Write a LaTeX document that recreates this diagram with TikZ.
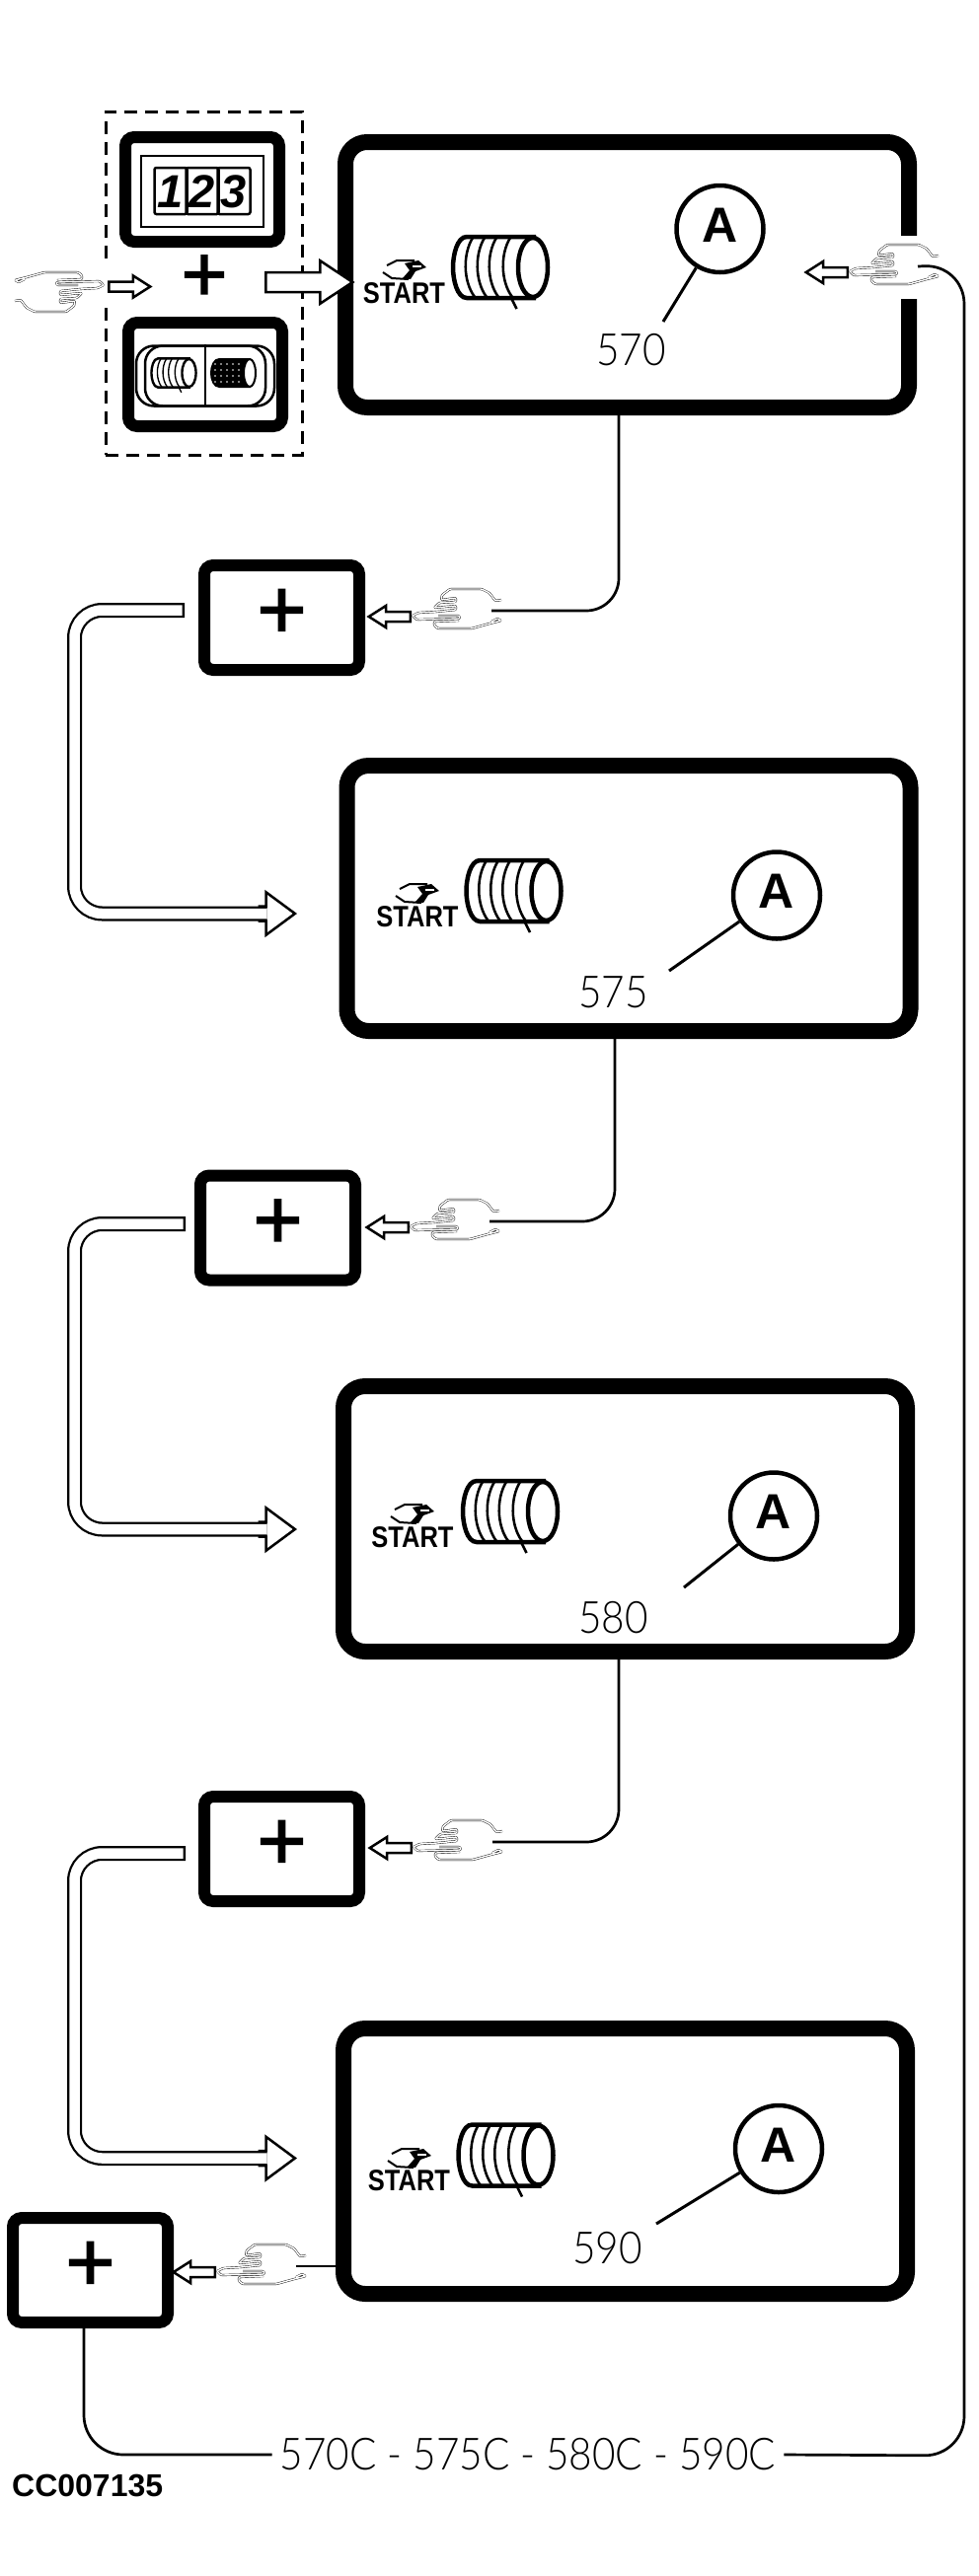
\documentclass[tikz,border=0pt]{standalone}
\usepackage{fontspec}
\setmainfont{Liberation Sans}
\newfontfamily\segfont[FakeStretch=.9]{Lato Light}
\newfontfamily\startfont[FakeStretch=.85]{Liberation Sans Bold}
\newfontfamily\plusfont[FakeBold=1.6]{Liberation Sans}
\newcommand{\fsz}[1]{\fontsize{#1}{#1}\selectfont}
\usetikzlibrary{positioning,shapes.arrows,calc}
\tikzset{
  x=1pt,y=-1pt,
  mainbox/.style={draw,line width=16pt,rounded corners=22pt,minimum width=571pt,minimum height=269pt,inner sep=0pt},
  plusbox/.style={draw,line width=12pt,rounded corners=9pt,minimum width=157pt,minimum height=106pt,inner sep=0pt,
                  font=\fsz{86pt}\plusfont,text height=50pt,text depth=8pt},
  callout/.style={draw,circle,line width=4.5pt,minimum size=88pt,inner sep=0pt,
                  font=\fsz{50pt}\bfseries,text height=36pt,text depth=10pt},
  seglabel/.style={font=\fsz{45pt}\segfont,inner sep=0pt},
  startlabel/.style={font=\fsz{30pt}\startfont,inner sep=0pt},
  cellbox/.style={draw,line width=2.5pt,minimum width=33pt,minimum height=47pt,inner sep=0pt,outer sep=0pt,
                  font=\fsz{47pt}\bfseries\itshape,text height=34pt,text depth=0pt},
  handarrow/.style={draw,fill=white,single arrow,line width=2.5pt,minimum height=42pt,inner sep=3.75pt,
                    single arrow head extend=6pt,single arrow tip angle=65,shape border rotate=#1,anchor=tail},
  handarrow/.default=180,
  fatarrow/.style={draw,fill=white,single arrow,line width=2.5pt,minimum height=88pt,inner sep=8.75pt,
                   single arrow head extend=11.75pt,single arrow tip angle=67,anchor=tail},
  routehead/.style={draw,fill=white,single arrow,line width=2.5pt,minimum height=36pt,inner sep=6.25pt,
                    single arrow head extend=14.25pt,single arrow tip angle=73,anchor=tip},
  routeline/.style={line width=15pt,rounded corners=28pt,postaction={draw,white,line width=10.5pt,shorten <=2.3pt}},
  conn/.style={line width=2.7pt,rounded corners=#1},
  conn/.default=33pt,
  leader/.style={line width=3pt},
  patch/.style={fill=white,inner sep=0pt},
  handline/.style={line width=.4pt,double,double distance=1.4pt,rounded corners=1pt,line join=round},
  pics/hand/.style={code={
    \draw[handline] (90,12) -- (84,13) -- (78,5) -- (70,1) -- (38,1) -- (30,7) -- (29,12) -- (44,10) -- (44,14)
      -- (27,15) -- (22,20) -- (44,18) -- (44,22) -- (24,24) -- (6,25) -- (0,28) -- (4,32) -- (48,31) -- (47,28) -- (26,28);
    \draw[handline] (47,33) -- (22,34) -- (22,38) -- (26,41) -- (60,41) -- (78,36) -- (90,33) -- (86,31) -- (80,34);
    \coordinate (-tail) at (-1,29);
    \coordinate (-wrist) at (80,23);
  }},
  pics/starthand/.style={code={
    \draw[line width=2pt] (4,6) -- (14,1) -- (32,1);
    \draw[line width=2pt] (0,13) -- (9,19) -- (26,20);
    \fill (22,4) -- (36,1) -- (44,8) -- (33,12) -- (28,20) -- (20,19) -- (27,11) -- cycle;
    \draw[white,line width=1.2pt] (30,7) -- (39,7);
  }},
  pics/roller/.style={code={
    \draw (36,-31) -- (-34,-31) .. controls (-44,-31) and (-48,-12) .. (-48,0)
      .. controls (-48,12) and (-44,31) .. (-34,31) -- (36,31);
    \draw (33,0) ellipse [x radius=15,y radius=30];
    \foreach \rx in {-36,-24,-12,2}
      \draw[line width=.75\pgflinewidth] (\rx+8,-30) .. controls (\rx-2,-14) and (\rx-2,14) .. (\rx+10,30);
    \draw[line width=.75\pgflinewidth] (11.5,32) -- (16.5,42);
  }},
  pics/dotroller/.style={code={
    \fill (18,-15) -- (-14,-15) .. controls (-20,-15) and (-23,-7) .. (-23,0)
      .. controls (-23,7) and (-20,15) .. (-14,15) -- (18,15) -- cycle;
    \draw[line width=2pt,fill=white] (17,0) ellipse [x radius=6,y radius=14];
    \foreach \dx in {-18,-12,...,6} \foreach \dy in {-9,-3,3,9}
      \fill[white] (\dx,\dy) circle (.9);
  }},
}
\begin{document}
\begin{tikzpicture}
  \useasboundingbox (0,0) rectangle (992,2611);
  % dashed group at the top
  \node[draw,dashed,dash pattern=on 13pt off 8pt,line width=3pt,minimum width=199pt,minimum height=348pt,inner sep=0pt] (dashbox) at (206.5,287) {};
  \node[patch,minimum width=8pt,minimum height=38pt] (dashgap) at (107,289) {};
  \node[draw,line width=12pt,rounded corners=9pt,minimum width=156pt,minimum height=106pt] (cnt) at (205,192) {};
  \node[draw,line width=2pt,minimum width=124pt,minimum height=72pt] (cntframe) at (205,194) {};
  \node[cellbox,rounded corners=2pt] (dig2) at (205,193.5) {2};
  \node[cellbox,rounded corners=2pt,left=-1pt of dig2] (dig1) {1};
  \node[cellbox,rounded corners=2pt,right=-1pt of dig2] (dig3) {3};
  \node[draw,line width=12pt,rounded corners=9pt,minimum width=156pt,minimum height=105pt] (sel) at (208,379.5) {};
  \node[draw,line width=2.5pt,rounded corners=18pt,minimum width=140pt,minimum height=61pt] (swouter) at (208,381) {};
  \node[draw,line width=2.5pt,rounded corners=18pt,minimum width=122pt,minimum height=61pt] (swinner) at (208,381) {};
  \draw[line width=2.5pt] (swouter.north) -- (swouter.south);
  \pic[scale=.47,line width=2.4pt] (rolla) at (176,378) {roller};
  \pic (rollb) at (236,378) {dotroller};
  \node[font=\fsz{80pt}\plusfont,inner sep=0pt,text height=46pt,text depth=0pt] (plus0) at (207,282) {+};

  % the four main panels
  \node[mainbox] (b1) at (635.5,278.5) {};
  \node[mainbox] (b2) at (637,910.5) {};
  \node[mainbox] (b3) at (633.5,1539.5) {};
  \node[mainbox] (b4) at (633.5,2190.5) {};
  \node[patch,minimum width=22pt,minimum height=64pt] (b1gap) at (922,271) {};

  \node[plusbox] (p1) at (285.5,626) {+};
  \node[plusbox] (p2) at (281.5,1244.5) {+};
  \node[plusbox] (p3) at (285.5,1874) {+};
  \node[plusbox] (p4) at (91.5,2301) {+};

  % panel contents
  \node[startlabel] (s1) at (409.5,297) {START};
  \node[startlabel] (s2) at (423,929) {START};
  \node[startlabel] (s3) at (418,1558) {START};
  \node[startlabel] (s4) at (414.5,2210.5) {START};
  \pic (sh1) at (388,263) {starthand};
  \pic (sh2) at (401,895) {starthand};
  \pic (sh3) at (396,1524) {starthand};
  \pic (sh4) at (393,2177) {starthand};
  \pic[line width=4.5pt] (r1) at (507,271) {roller};
  \pic[line width=4.5pt] (r2) at (520.5,903) {roller};
  \pic[line width=4.5pt] (r3) at (517,1532) {roller};
  \pic[line width=4.5pt] (r4) at (512.5,2184.5) {roller};
  \node[callout] (a1) at (729.5,232) {A};
  \node[callout] (a2) at (787,907.5) {A};
  \node[callout] (a3) at (784,1536.5) {A};
  \node[callout] (a4) at (789,2178) {A};
  \node[seglabel] (t1) at (639.5,354.5) {570};
  \node[seglabel] (t2) at (621.5,1006) {575};
  \node[seglabel] (t3) at (621.5,1639.5) {580};
  \node[seglabel] (t4) at (615.5,2279) {590};
  \coordinate (c1) at (672,326);
  \coordinate (c2) at (678,984);
  \coordinate (c3) at (693,1609);
  \coordinate (c4) at (665,2254);
  \draw[leader] (a1) -- (c1);
  \draw[leader] (a2) -- (c2);
  \draw[leader] (a3) -- (c3);
  \draw[leader] (a4) -- (c4);

  % hands and their arrows
  \pic[rotate=180] (h5) at (105,317) {hand};
  \node[handarrow=0] (ha5) at (109,290.5) {};
  \node[fatarrow] (go) at (268,286) {};
  \pic (h0) at (861,247) {hand};
  \pic (h1) at (418,596) {hand};
  \pic (h2) at (416,1215) {hand};
  \pic (h3) at (419,1844) {hand};
  \pic (h4) at (220,2274) {hand};
  \node[handarrow] (ha0) at (h0-tail) {};
  \node[handarrow] (ha1) at (h1-tail) {};
  \node[handarrow] (ha2) at (h2-tail) {};
  \node[handarrow] (ha3) at (h3-tail) {};
  \node[handarrow] (ha4) at (h4-tail) {};

  % connectors
  \draw[conn] ([xshift=-8.5pt]b1.south) |- (h1-wrist);
  \draw[conn] ([xshift=-14pt]b2.south) |- (h2-wrist);
  \draw[conn] ([xshift=-6.5pt]b3.south) |- (h3-wrist);
  \draw[conn] (b4.west |- h4-wrist) -- (h4-wrist);

  % hollow routes back into the panels
  \node[routehead] (rh1) at (301,926) {};
  \node[routehead] (rh2) at (301,1550) {};
  \node[routehead] (rh3) at (301,2187.5) {};
  \draw[routeline] ([xshift=-14pt,yshift=7.5pt]p1.west) -| (75.5,770) |- ([xshift=9pt]rh1.tail);
  \draw[routeline] ([xshift=-9pt,yshift=4pt]p2.west) -| (75.5,1400) |- ([xshift=9pt]rh2.tail);
  \draw[routeline] ([xshift=-13pt,yshift=-4.5pt]p3.west) -| (75.5,2030) |- ([xshift=9pt]rh3.tail);

  % long return line with the code list
  \node[seglabel,inner xsep=8pt] (codes) at (535,2488) {570C - 575C - 580C - 590C};
  \draw[conn=40pt] ([xshift=-6.5pt]p4.south) |- (codes.west);
  \draw[conn=40pt] ([xshift=-11pt]h0-wrist) -- (977,268) -- (977,2489) -- (codes.east);
  \node[font=\fsz{32pt}\bfseries,inner sep=0pt,anchor=west] (code) at (12,2519) {CC007135};
\end{tikzpicture}
\end{document}
